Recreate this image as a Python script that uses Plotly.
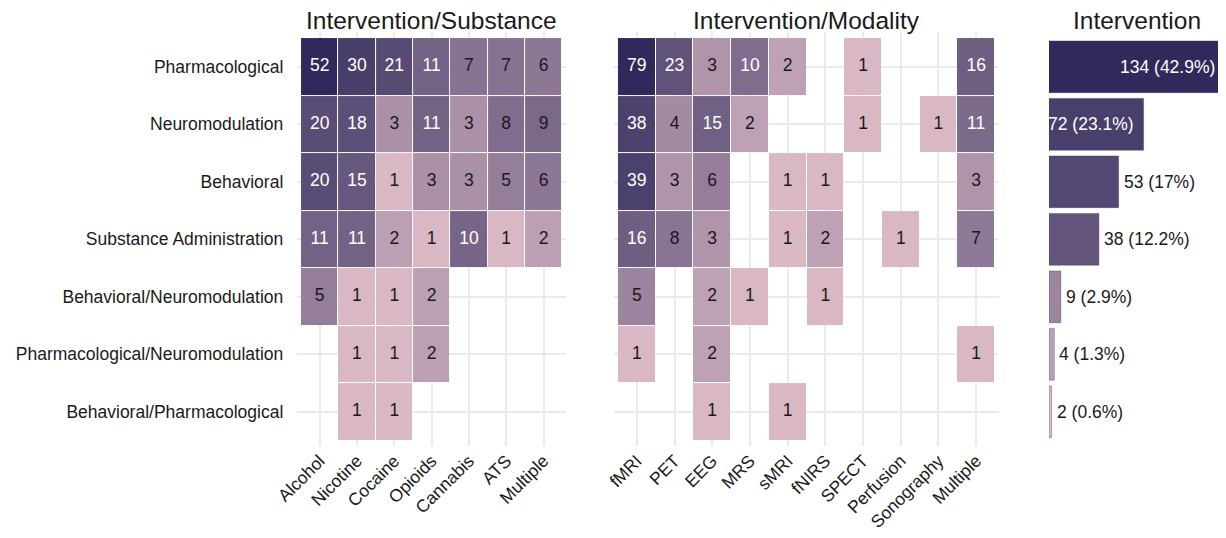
import numpy as np
import plotly.graph_objects as go

interventions = ["Pharmacological", "Neuromodulation", "Behavioral", "Substance Administration",
                 "Behavioral/Neuromodulation", "Pharmacological/Neuromodulation", "Behavioral/Pharmacological"]
substances = ["Alcohol", "Nicotine", "Cocaine", "Opioids", "Cannabis", "ATS", "Multiple"]
modalities = ["fMRI", "PET", "EEG", "MRS", "sMRI", "fNIRS", "SPECT", "Perfusion", "Sonography", "Multiple"]

N = None
substance_counts = [
    [52, 30, 21, 11, 7, 7, 6],
    [20, 18, 3, 11, 3, 8, 9],
    [20, 15, 1, 3, 3, 5, 6],
    [11, 11, 2, 1, 10, 1, 2],
    [5, 1, 1, 2, N, N, N],
    [N, 1, 1, 2, N, N, N],
    [N, 1, 1, N, N, N, N],
]
modality_counts = [
    [79, 23, 3, 10, 2, N, 1, N, N, 16],
    [38, 4, 15, 2, N, N, 1, N, 1, 11],
    [39, 3, 6, N, 1, 1, N, N, N, 3],
    [16, 8, 3, N, 1, 2, N, 1, N, 7],
    [5, N, 2, 1, N, 1, N, N, N, N],
    [1, N, 2, N, N, N, N, N, N, 1],
    [N, N, 1, N, 1, N, N, N, N, N],
]
intervention_totals = [134, 72, 53, 38, 9, 4, 2]

LOW = "#d9b8c4"
HIGH = "#302a5c"
CSCALE = [[0, LOW], [1, HIGH]]
FONT = "Liberation Sans, Arial, sans-serif"
TXT = "#1a1a1a"
FS = 17.5

OFF = 8  # page body margin
W, H = 1226 - OFF, 538 - OFF


def px_x(a, b):
    return [(a - OFF) / W, (b - OFF) / W]


def py(v):
    return 1 - (v - OFF) / H


ydom = [py(446.3), py(32.3)]

fig = go.Figure()


def add_heat(counts, cols, xa, ya):
    z = [[np.log(v) if v is not None else None for v in row] for row in counts]
    mx = max(v for row in counts for v in row if v is not None)
    fig.add_trace(go.Heatmap(
        z=z, x=cols, y=interventions, colorscale=CSCALE, zmin=0, zmax=np.log(mx),
        showscale=False, xgap=1, ygap=1, hoverinfo="skip", xaxis=xa, yaxis=ya))
    tx, ty, tt, tc = [], [], [], []
    for i, row in enumerate(counts):
        for j, v in enumerate(row):
            if v is None:
                continue
            tx.append(cols[j]); ty.append(interventions[i]); tt.append(str(v))
            tc.append("white" if v >= 10 else TXT)
    fig.add_trace(go.Scatter(
        x=tx, y=ty, text=tt, mode="text", textfont=dict(color=tc, size=FS, family=FONT),
        hoverinfo="skip", showlegend=False, xaxis=xa, yaxis=ya))


add_heat(substance_counts, substances, "x", "y")
add_heat(modality_counts, modalities, "x2", "y2")

total = sum(intervention_totals)
logs = np.log(intervention_totals)
fig.add_trace(go.Bar(
    x=intervention_totals, y=interventions, orientation="h", width=0.9,
    marker=dict(color=logs, colorscale=CSCALE, cmin=logs.min(), cmax=logs.max(),
                line=dict(width=0.6, color="rgba(60,40,110,0.6)")),
    hoverinfo="skip", showlegend=False, xaxis="x3", yaxis="y3"))

annotations = []
for v, name in zip(intervention_totals, interventions):
    pct = round(v / total * 100, 1)
    label = f"{v} ({pct:g}%)"
    if v > 60:
        annotations.append(dict(x=v, y=name, xref="x3", yref="y3", text=label, showarrow=False,
                                xanchor="right", xshift=-8,
                                font=dict(size=FS, family=FONT, color="white")))
    else:
        annotations.append(dict(x=v, y=name, xref="x3", yref="y3", text=label, showarrow=False,
                                xanchor="left", xshift=3, font=dict(size=FS, family=FONT, color=TXT)))

titles = [("Intervention/Substance", (297.3 + 565.9) / 2), ("Intervention/Modality", (614.2 + 998.8) / 2),
          ("Intervention", (1049 + 1225) / 2)]
for t, cx in titles:
    annotations.append(dict(x=(cx - OFF) / W, y=py(21), xref="paper", yref="paper", text=t, showarrow=False,
                            xanchor="center", yanchor="middle", font=dict(size=24.5, family=FONT, color=TXT)))

grid = dict(showgrid=True, gridcolor="#ebebeb", gridwidth=2, zeroline=False, showline=False, ticks="",
            automargin=False)
fig.update_layout(
    width=W, height=H, margin=dict(l=0, r=0, t=0, b=0, autoexpand=False),
    paper_bgcolor="white", plot_bgcolor="white",
    font=dict(family=FONT, size=FS, color=TXT),
    showlegend=False, annotations=annotations,
    xaxis=dict(domain=px_x(297.3, 565.9), range=[-0.6, 6.6], type="category", categoryorder="array",
               categoryarray=substances, tickangle=-45, tickfont=dict(size=FS), **grid),
    yaxis=dict(domain=ydom, range=[6.6, -0.6], type="category", categoryorder="array",
               categoryarray=interventions, tickfont=dict(size=FS), ticklabelstandoff=13, **grid),
    xaxis2=dict(domain=px_x(614.2, 998.8), range=[-0.6, 9.6], type="category", categoryorder="array",
                categoryarray=modalities, tickangle=-45, tickfont=dict(size=FS), anchor="y2", **grid),
    yaxis2=dict(domain=ydom, range=[6.6, -0.6], type="category", categoryorder="array",
                categoryarray=interventions, showticklabels=False, anchor="x2", **grid),
    xaxis3=dict(domain=px_x(1049, 1225), range=[0, 134], showgrid=False, zeroline=False,
                showticklabels=False, anchor="y3", automargin=False),
    yaxis3=dict(domain=ydom, range=[6.6, -0.6], type="category", categoryorder="array",
                categoryarray=interventions, showticklabels=False, showgrid=False, anchor="x3",
                automargin=False),
)

fig.write_html("out.html")
